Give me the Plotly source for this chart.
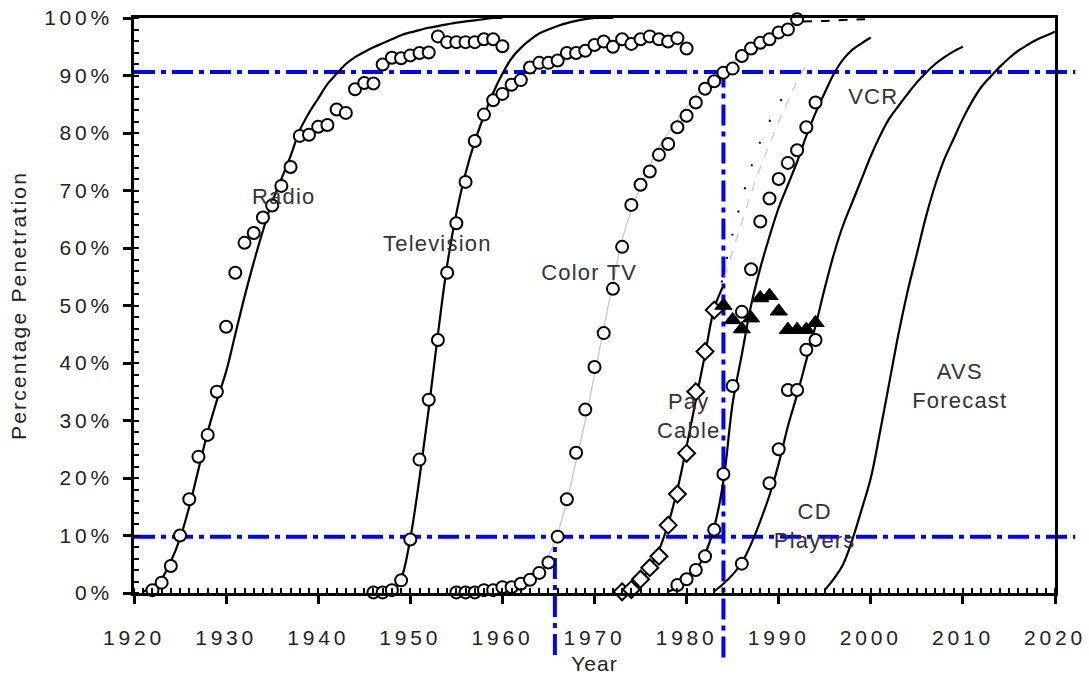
import plotly.graph_objects as go

# ---------------- data ----------------
radio_years = list(range(1922, 1961))
radio_pts = [0.5, 1.8, 4.7, 10, 16.3, 23.7, 27.5, 35, 46.3, 55.7, 60.9, 62.6, 65.3, 67.4,
             70.8, 74.1, 79.5, 79.7, 81.1, 81.4, 84.1, 83.5, 87.6, 88.7, 88.6, 91.9, 93.1,
             93.0, 93.5, 93.9, 94.0, 96.8, 95.8, 95.8, 95.8, 95.8, 96.3, 96.3, 95.1]
radio_fit_years = list(range(1921, 1961))
radio_fit = [0.2, 1, 2.5, 5.5, 9.5, 15, 21.5, 28, 33.5, 38.5, 45, 51.5, 57.5, 63, 68, 72,
             76, 80.5, 83.5, 86, 88.5, 90.3, 92, 93.2, 94.1, 94.9, 95.6, 96.3, 97, 97.5,
             97.9, 98.3, 98.6, 98.9, 99.2, 99.4, 99.6, 99.8, 100, 100]

tv_years = list(range(1946, 1981))
tv_pts = [0.1, 0.1, 0.5, 2.2, 9.3, 23.2, 33.6, 44, 55.7, 64.3, 71.5, 78.6, 83.2, 85.7,
          86.8, 88.4, 89.2, 91.4, 92.2, 92.2, 92.6, 93.9, 93.9, 94.3, 95.3, 95.9, 95.0,
          96.3, 95.5, 96.3, 96.8, 96.3, 95.9, 96.5, 94.7]
tv_fit_years = list(range(1948, 1973))
tv_fit = [0.3, 2.5, 9.5, 20, 32, 45, 57, 66, 73, 78.5, 83, 87, 90.3, 93, 94.8, 96.2, 97.3,
          98, 98.6, 99.1, 99.5, 99.8, 100, 100, 100]

ctv_years = list(range(1955, 1993))
ctv_pts = [0.1, 0.1, 0.1, 0.5, 0.5, 1, 1, 1.6, 2.3, 3.5, 5.3, 9.8, 16.3, 24.4, 31.9, 39.3,
           45.2, 52.9, 60.2, 67.5, 71, 73.3, 76.2, 78.1, 81, 83, 85.3, 87.7, 89, 90.5,
           91.2, 93.4, 94.7, 95.7, 96.3, 97.5, 98, 99.8]
ctv_fit_years = list(range(1961, 1993))
ctv_fit = [0.2, 0.6, 1.5, 3.2, 6.3, 10.4, 16, 23, 30, 38, 46, 54, 61.4, 66.5, 70.7, 74.3,
           77.5, 80, 82.3, 84.5, 86.5, 88.2, 89.7, 91, 92.3, 93.5, 94.6, 95.6, 96.6,
           97.5, 98.2, 98.8]
ctv_tail_years = [1992.6, 1995, 1997.5, 2000]
ctv_tail = [99.4, 99.5, 99.7, 99.8]

pay_years = list(range(1973, 1984))
pay_pts = [0.2, 0.6, 2.4, 4.4, 6.4, 11.8, 17.2, 24.3, 35, 42, 49.2]
pay_fit_years = list(range(1972, 1985))
pay_fit = [0, 0.3, 1, 2.3, 4.3, 7.5, 12, 18, 25.5, 33.5, 41.5, 49.5, 53.5]
pay_actual_years = list(range(1984, 1995))
pay_actual = [50, 47.5, 45.9, 47.8, 51.3, 51.7, 49, 45.8, 45.8, 45.8, 47]
pay_proj_years = [1983.6, 1985, 1986, 1987, 1988, 1989, 1990, 1991, 1992, 1993.2]
pay_proj = [52, 59.5, 64.5, 69.5, 74, 78, 82, 85.5, 89, 92.4]
pay_proj2_years = [1983.8, 1985, 1986, 1987, 1988, 1989, 1990, 1991]
pay_proj2 = [54, 62.5, 68.5, 74, 78.5, 82, 85, 87.7]

vcr_years = list(range(1979, 1995))
vcr_pts = [1.4, 2.4, 4, 6.4, 11, 20.7, 36, 48.9, 56.3, 64.6, 68.6, 72, 74.8, 77, 81, 85.3]
vcr_fit_years = list(range(1978, 2001))
vcr_fit = [0.2, 1, 2.3, 4, 6.8, 11.5, 19.5, 33, 41.5, 50, 56.5, 62, 67, 71, 75, 79.5,
           83.5, 87, 90.3, 92.8, 94.5, 95.6, 96.6]

cd_years = [1986, 1989, 1990, 1991, 1992, 1993, 1994]
cd_pts = [5.1, 19.1, 25, 35.3, 35.3, 42.3, 44]
cd_fit_years = list(range(1983, 2011))
cd_fit = [0.3, 1.6, 3.2, 5.3, 8.5, 12.5, 17, 22.5, 29, 34.5, 40.5, 46.5, 53, 59, 64, 68,
          72, 76, 79.5, 82.5, 84.7, 86.8, 88.8, 90.5, 92, 93.2, 94.2, 95]

avs_years = list(range(1995, 2021))
avs_fit = [0.5, 2.5, 5, 9.3, 14.5, 20, 28, 36.5, 45, 52.5, 59, 65.5, 71, 75.5, 79, 82.5,
           85.5, 88, 89.8, 91.5, 93, 94.3, 95.3, 96.2, 96.9, 97.6]

labels = ["Radio", "Television", "Color TV", "Pay<br>Cable", "VCR", "CD<br>Players", "AVS<br>Forecast"]
label_x = [1936.2, 1952.9, 1969.5, 1980.2, 2000.2, 1993.9, 2009.7]
label_y = [68.9, 60.7, 55.7, 30.8, 86.4, 11.7, 36.0]

thresh_low = 9.8
thresh_high = 90.6
cross_low_year = 1965.7
cross_high_year = 1984.0

# ---------------- figure ----------------
fig = go.Figure()

def curve(x, y, color="black", width=2.2, dash="solid"):
    fig.add_trace(go.Scatter(x=x, y=y, mode="lines", line=dict(color=color, width=width, dash=dash),
                             line_shape="spline", showlegend=False, hoverinfo="skip"))

def circles(x, y):
    fig.add_trace(go.Scatter(x=x, y=y, mode="markers", cliponaxis=False, showlegend=False,
                             marker=dict(symbol="circle", size=12, color="white",
                                         line=dict(color="black", width=2))))

curve(ctv_fit_years, ctv_fit, color="#c8c8c8", width=1.3)
curve(ctv_tail_years, ctv_tail, color="black", width=2, dash="dash")
curve(pay_proj_years, pay_proj, color="#cccccc", width=1.3, dash="dash")
curve(pay_proj2_years, pay_proj2, color="black", width=2, dash="2px,22px")
curve(radio_fit_years, radio_fit)
curve(tv_fit_years, tv_fit)
curve(pay_fit_years, pay_fit)
curve(vcr_fit_years, vcr_fit)
curve(cd_fit_years, cd_fit)
curve(avs_years, avs_fit)

circles(radio_years, radio_pts)
circles(tv_years, tv_pts)
circles(ctv_years, ctv_pts)
circles(vcr_years, vcr_pts)
circles(cd_years, cd_pts)

fig.add_trace(go.Scatter(x=pay_years, y=pay_pts, mode="markers", cliponaxis=False, showlegend=False,
                         marker=dict(symbol="diamond", size=13, color="white",
                                     line=dict(color="black", width=2))))
fig.add_trace(go.Scatter(x=pay_actual_years, y=pay_actual, mode="markers", cliponaxis=False,
                         showlegend=False,
                         marker=dict(symbol="triangle-up", size=15, color="black",
                                     line=dict(color="black", width=1))))

blue = dict(color="#0000ff", width=4, dash="21px,6px,5px,6px")
fig.add_shape(type="line", xref="paper", yref="y", x0=0, x1=1.022, y0=thresh_high, y1=thresh_high,
              line=blue, layer="below")
fig.add_shape(type="line", xref="paper", yref="y", x0=0, x1=1.022, y0=thresh_low, y1=thresh_low,
              line=blue, layer="below")
fig.add_shape(type="line", xref="x", yref="paper", x0=cross_low_year, x1=cross_low_year,
              y0=-0.108, y1=thresh_low / 100, line=blue, layer="below")
fig.add_shape(type="line", xref="x", yref="paper", x0=cross_high_year, x1=cross_high_year,
              y0=-0.112, y1=thresh_high / 100, line=blue, layer="below")

FAM = "Liberation Sans, Arial, sans-serif"
for t, x, y in zip(labels, label_x, label_y):
    fig.add_annotation(x=x, y=y, text=t, showarrow=False,
                       font=dict(family=FAM, size=22, color="#333333"))

tickfont = dict(family=FAM, size=21, color="#222222")
fig.update_layout(
    width=1089, height=679,
    margin=dict(l=134, r=34, t=18, b=86),
    paper_bgcolor="white", plot_bgcolor="white",
    font=dict(family=FAM, color="#222222"),
    xaxis=dict(range=[1920, 2020], dtick=10, tick0=1920, showgrid=False, zeroline=False,
               automargin=False, ticklabeloverflow="allow",
               showline=True, linecolor="black", linewidth=2.5, mirror=True,
               ticks="outside", ticklen=8, tickwidth=2.5, tickcolor="black",
               ticklabelstandoff=16,
               minor=dict(dtick=1, ticks="inside", ticklen=5, tickwidth=1.5, tickcolor="black"),
               tickfont=tickfont,
               title=dict(text="Year", font=dict(family=FAM, size=21, color="#222222"),
                          standoff=9)),
    yaxis=dict(range=[0, 100], dtick=10, ticksuffix="%", showgrid=False, zeroline=False,
               automargin=False, ticklabeloverflow="allow",
               showline=True, linecolor="black", linewidth=2.5, mirror=True,
               ticks="outside", ticklen=8, tickwidth=2.5, tickcolor="black",
               ticklabelstandoff=6,
               minor=dict(dtick=2, ticks="inside", ticklen=5, tickwidth=1.5, tickcolor="black"),
               tickfont=tickfont,
               title=dict(text="Percentage Penetration",
                          font=dict(family=FAM, size=21, color="#222222"),
                          standoff=27)),
)

post = """
document.body.style.margin = '0';
var gd = document.getElementById('{plot_id}');
function spacing() {
  gd.querySelectorAll('.xtick text, .ytick text').forEach(function (t) { t.style.letterSpacing = '3.8px'; });
  gd.querySelectorAll('.g-ytitle text').forEach(function (t) { t.style.letterSpacing = '2.2px'; });
  gd.querySelectorAll('.g-xtitle text').forEach(function (t) { t.style.letterSpacing = '1px'; });
  gd.querySelectorAll('.annotation-text').forEach(function (t) { t.style.letterSpacing = '1.2px'; });
}
spacing();
gd.on('plotly_afterplot', spacing);
"""

fig.write_html("out.html", post_script=post, config={"displayModeBar": False})
